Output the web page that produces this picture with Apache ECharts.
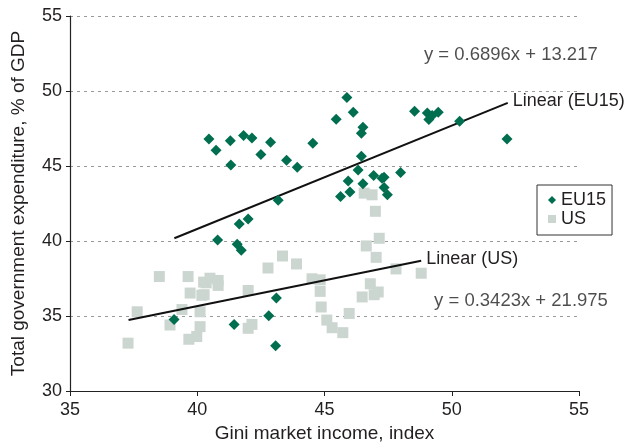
<!DOCTYPE html>
<html><head><meta charset="utf-8">
<script src="https://cdn.jsdelivr.net/npm/echarts@6/dist/echarts.min.js"></script>
<style>html,body{margin:0;padding:0;background:#fff}#c{width:624px;height:448px}</style>
</head><body><div id="c"></div>
<script>
const eu15 = [
 [40.46,46.8],[40.74,46.05],[41.30,46.69],[41.32,45.06],[41.82,47.04],[42.15,46.86],
 [42.50,45.77],[42.88,46.58],[43.51,45.39],[43.93,44.91],[44.54,46.51],[43.18,42.71],
 [42.0,41.46],[41.65,41.13],[40.80,40.07],[41.57,39.78],[41.73,39.39],[39.09,34.77],
 [41.45,34.44],[42.81,35.01],[43.11,36.2],[43.08,33.01],[45.46,48.12],[45.88,49.57],
 [46.13,48.58],[46.51,47.59],[46.45,47.19],[46.45,45.65],[46.32,44.73],[45.93,44.0],
 [46.0,43.26],[45.63,42.97],[46.51,43.81],[46.93,44.36],[47.26,44.18],[47.34,44.25],
 [47.34,43.57],[47.47,43.08],[47.99,44.56],[48.54,48.65],[49.04,48.54],[49.1,48.1],
 [49.23,48.36],[49.47,48.58],[50.31,47.99],[52.17,46.8]
];
const us = [
 [37.28,33.19],[37.64,35.28],[38.51,37.63],[38.93,34.4],[39.40,35.43],[39.64,37.63],
 [39.72,36.53],[39.67,33.45],[39.98,33.63],[40.11,34.29],[40.11,35.28],[40.27,36.42],
 [40.35,37.21],[40.5,37.52],[40.82,37.37],[40.82,37.04],[42.0,36.7],[42.0,34.18],
 [42.15,34.44],[42.78,38.2],[43.35,39.0],[43.9,38.47],[44.51,37.48],[44.83,37.41],
 [44.83,36.64],[44.87,35.6],[45.09,34.73],[45.3,34.22],[45.72,33.89],[45.97,35.17],
 [46.48,36.27],[46.64,39.67],[46.8,37.15],[46.95,36.42],[47.0,41.98],[47.03,38.91],
 [47.11,36.6],[47.15,40.18],[46.56,43.19],[46.87,43.08],[47.81,38.14],[48.8,37.85],
 [40.25,37.26],[40.18,36.38]
];
const trendEU = [[39.1,40.18],[52.2,49.21]];
const trendUS = [[37.3,34.74],[48.8,38.68]];
const eqEU = {text:'y = 0.6896x + 13.217', at:[52.32,52.43]};
const eqUS = {text:'y = 0.3423x + 21.975', at:[52.72,36.0]};
const xTicks = [35,40,45,50,55];
const yTicks = [30,35,40,45,50,55];

const FONT = 'Liberation Sans, Arial, sans-serif';
const TXT = '#231f20';
const GREEN = '#006e4f';
const GREY = '#ccd6d0';

const chart = echarts.init(document.getElementById('c'), null, {renderer:'canvas'});
function trendSeries(name, pts, label){
  return {
    type:'line', name:name, silent:true, symbol:'none', z:3,
    lineStyle:{color:'#111', width:2},
    endLabel:{show:true, formatter:label, color:TXT, fontSize:18, fontFamily:FONT, distance:5, offset:[0,-2]},
    labelLayout:{hideOverlap:false},
    data: pts
  };
}
function eqSeries(eq){
  return {
    type:'scatter', silent:true, symbolSize:0, z:5,
    data:[{value:eq.at}],
    label:{show:true, position:'inside', formatter:eq.text, color:TXT, fontSize:18.5, fontFamily:FONT}
  };
}
chart.setOption({
  animation:false,
  grid:{left:70, right:45, top:16, bottom:53, containLabel:false},
  xAxis:{
    type:'value', min:35, max:55, interval:5,
    name:'Gini market income, index', nameLocation:'middle', nameGap:33,
    nameTextStyle:{color:TXT, fontSize:19, fontFamily:FONT},
    axisLine:{show:true, lineStyle:{color:'#222', width:1.2}},
    axisTick:{show:true, length:5, lineStyle:{color:'#222'}},
    axisLabel:{color:TXT, fontSize:18, fontFamily:FONT, margin:10, formatter:v=>xTicks.includes(v)?String(v):''},
    splitLine:{show:false}
  },
  yAxis:{
    type:'value', min:30, max:55, interval:5,
    name:'Total government expenditure, % of GDP', nameLocation:'middle', nameGap:42,
    nameTextStyle:{color:TXT, fontSize:19, fontFamily:FONT},
    axisLine:{show:true, lineStyle:{color:'#222', width:1.2}},
    axisTick:{show:true, length:4, lineStyle:{color:'#222'}},
    axisLabel:{color:TXT, fontSize:18, fontFamily:FONT, margin:8, formatter:v=>yTicks.includes(v)?String(v):''},
    splitLine:{show:true, lineStyle:{color:'#999', type:[3,4], width:1}}
  },
  legend:{
    orient:'vertical', left:537, top:185,
    data:[{name:'EU15', icon:'diamond'},{name:'US', icon:'rect'}],
    itemWidth:8, itemHeight:8, itemGap:1,
    textStyle:{color:TXT, fontSize:18, fontFamily:FONT, lineHeight:16},
    borderColor:'#333', borderWidth:1, padding:[6,6,7,11], borderRadius:0
  },
  series:[
    {type:'scatter', name:'US', data:us, symbol:'rect', symbolSize:11, itemStyle:{color:GREY, opacity:1}, z:2},
    {type:'scatter', name:'EU15', data:eu15, symbol:'diamond', symbolSize:11, itemStyle:{color:GREEN, opacity:1}, z:4},
    trendSeries('tEU', trendEU, 'Linear (EU15)'),
    trendSeries('tUS', trendUS, 'Linear (US)'),
    eqSeries(eqEU), eqSeries(eqUS)
  ]
});
</script></body></html>
